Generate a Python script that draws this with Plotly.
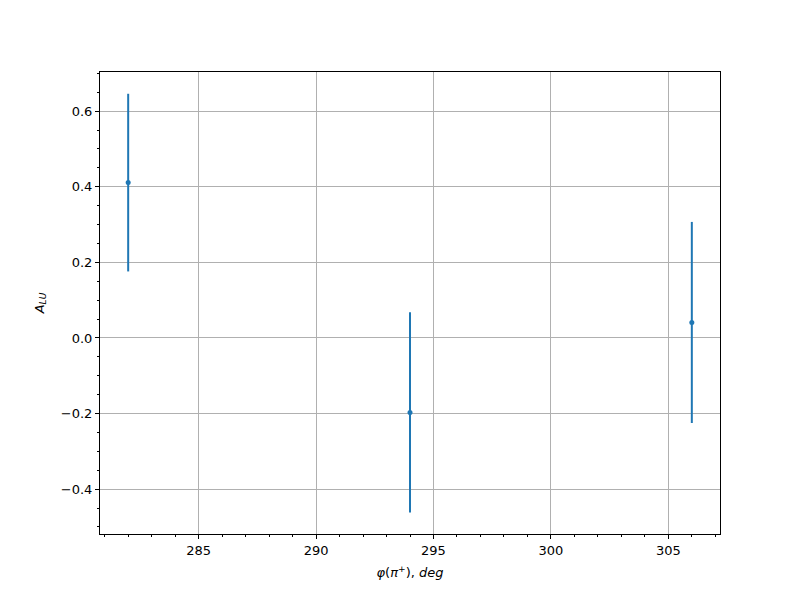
import plotly.graph_objects as go

phi = [282, 294, 306]
a_lu = [0.411, -0.197, 0.041]
err = [0.235, 0.265, 0.266]

fig = go.Figure()
fig.add_trace(go.Scatter(
    x=phi, y=a_lu, mode="markers",
    marker=dict(color="#1f77b4", size=5),
    error_y=dict(type="data", array=err, visible=True, color="#1f77b4",
                 thickness=2, width=0),
    showlegend=False,
))

axis_common = dict(
    showline=True, linecolor="black", linewidth=1, mirror=True,
    ticks="outside", ticklen=4, tickcolor="black", tickwidth=1,
    showgrid=True, gridcolor="#b0b0b0", gridwidth=1,
    zeroline=False,
    tickfont=dict(family="DejaVu Sans", size=13, color="black"),
)

fig.update_layout(
    width=800, height=600,
    margin=dict(l=92, r=88, t=64, b=74),
    plot_bgcolor="white", paper_bgcolor="white",
    font=dict(family="DejaVu Sans", size=13, color="black"),
    xaxis=dict(
        range=[280.8, 307.2], tickmode="array", tickvals=[285, 290, 295, 300, 305],
        minor=dict(dtick=1, tick0=0, ticks="outside", ticklen=2, tickcolor="black", showgrid=False),
        title=dict(text="<i>φ</i>(<i>π</i><sup>+</sup>), <i>deg</i>", standoff=11,
                   font=dict(family="DejaVu Sans", size=13)),
        **axis_common,
    ),
    yaxis=dict(
        range=[-0.5186, 0.7036], tickmode="array",
        tickvals=[-0.4, -0.2, 0.0, 0.2, 0.4, 0.6],
        ticktext=["\u22120.4", "\u22120.2", "0.0", "0.2", "0.4", "0.6"],
        minor=dict(dtick=0.05, tick0=0, ticks="outside", ticklen=2, tickcolor="black", showgrid=False),
        title=dict(text="<i>A</i><sub><i>LU</i></sub>", standoff=13,
                   font=dict(family="DejaVu Sans", size=13)),
        **axis_common,
    ),
)

fig.write_html("out.html")
